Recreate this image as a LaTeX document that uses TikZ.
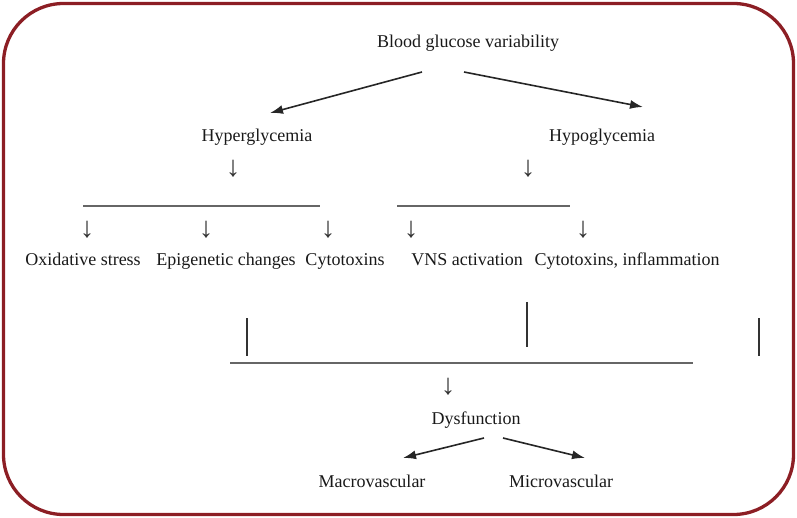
\documentclass[tikz,border=0pt]{standalone}
\usepackage{fontspec}
\setmainfont{Liberation Serif}
\usetikzlibrary{arrows.meta}
\definecolor{framered}{RGB}{140,30,36}

\begin{document}
\begin{tikzpicture}[x=1pt,y=-1pt,
  lbl/.style={anchor=base,inner sep=0pt,font=\fontsize{18}{20}\selectfont,text=black!90},
  dn/.style={inner sep=0pt,font=\fontsize{29}{30}\selectfont,text=black!80},
  arr/.style={-{Latex[length=13pt,width=9pt]},line width=1.6pt,black!85},
  rule/.style={line width=1.5pt,black!60},
  bar/.style={line width=2pt,black!80}]
  % the page and its frame
  \useasboundingbox (0,0) rectangle (797,518);
  \draw[framered,line width=3.3pt,rounded corners=60pt] (3.5,3.5) rectangle (793.5,514.5);

  % the two branches
  \node[lbl] (bgv) at (468,48) {Blood glucose variability};
  \node[lbl] (hyper) at (257,142) {Hyperglycemia};
  \node[lbl] (hypo) at (602,142) {Hypoglycemia};
  \draw[arr] ([shift={(-46,24)}]bgv.base) -- ([shift={(13,-29)}]hyper.base);
  \draw[arr] ([shift={(-4,24)}]bgv.base) -- ([shift={(41,-35)}]hypo.base);
  \node[dn] (dnHyper) at (233,169) {↓};
  \node[dn] (dnHypo) at (528,169) {↓};

  % the rules under each branch
  \coordinate (hyperL) at (83,206);
  \coordinate (hyperR) at (320,206);
  \coordinate (hypoL) at (397,206);
  \coordinate (hypoR) at (570,206);
  \draw[rule] (hyperL) -- (hyperR);
  \draw[rule] (hypoL) -- (hypoR);

  % the mechanisms
  \node[dn] (dnOxi) at (87,230) {↓};
  \node[dn] (dnEpi) at (206,230) {↓};
  \node[dn] (dnCyt) at (328,230) {↓};
  \node[dn] (dnVns) at (411,230) {↓};
  \node[dn] (dnInf) at (583,230) {↓};
  \node[lbl] (oxi) at (83,266) {Oxidative stress};
  \node[lbl] (epi) at (226,266) {Epigenetic changes};
  \node[lbl] (cyt) at (345,266) {Cytotoxins};
  \node[lbl] (vns) at (467,266) {VNS activation};
  \node[lbl] (inf) at (627,266) {Cytotoxins, inflammation};

  % the bars and the joining rule
  \coordinate (barAt) at (247,318);
  \coordinate (barAb) at (247,356);
  \coordinate (barBt) at (527,302);
  \coordinate (barBb) at (527,347);
  \coordinate (barCt) at (759,318);
  \coordinate (barCb) at (759,356);
  \draw[bar] (barAt) -- (barAb);
  \draw[bar] (barBt) -- (barBb);
  \draw[bar] (barCt) -- (barCb);
  \coordinate (joinL) at (230,363);
  \coordinate (joinR) at (693,363);
  \draw[rule] (joinL) -- (joinR);

  % the outcome
  \node[dn] (dnDys) at (448,387) {↓};
  \node[lbl] (dys) at (476,424) {Dysfunction};
  \node[lbl] (macro) at (372,487) {Macrovascular};
  \node[lbl] (micro) at (561,487) {Microvascular};
  \draw[arr] ([shift={(8,14)}]dys.base) -- ([shift={(31,-29)}]macro.base);
  \draw[arr] ([shift={(27,14)}]dys.base) -- ([shift={(24,-29)}]micro.base);
\end{tikzpicture}
\end{document}
